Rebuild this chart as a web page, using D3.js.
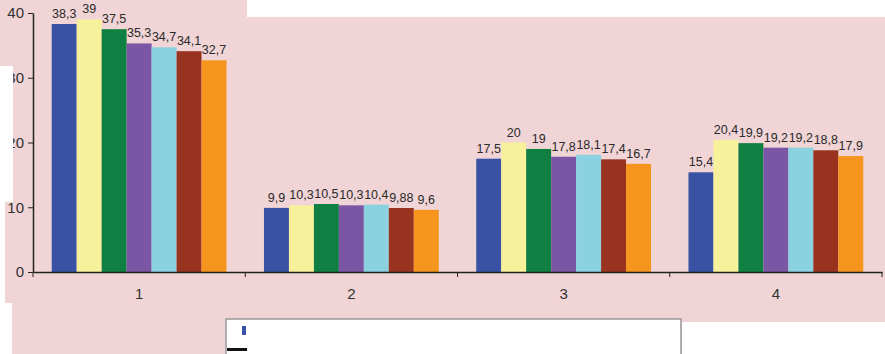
<!DOCTYPE html>
<html>
<head>
<meta charset="utf-8">
<script src="https://cdn.jsdelivr.net/npm/d3@7"></script>
<style>
	body { margin: 0; background: #fff; }
	svg { display: block; }
	text { font-family: 'Liberation Sans', Arial, sans-serif; }
</style>
</head>
<body>
<div id="app"></div>
<script>
'use strict'

// categories on the x axis
const categories = ['1', '2', '3', '4']

// seven series, one value per category
const series1 = [38.3, 9.9, 17.5, 15.4]
const series2 = [39, 10.3, 20, 20.4]
const series3 = [37.5, 10.5, 19, 19.9]
const series4 = [35.3, 10.3, 17.8, 19.2]
const series5 = [34.7, 10.4, 18.1, 19.2]
const series6 = [34.1, 9.88, 17.4, 18.8]
const series7 = [32.7, 9.6, 16.7, 17.9]

const yTicks = [0, 10, 20, 30, 40]

const seriesList = [series1, series2, series3, series4, series5, series6, series7]
const colors = ['#3a52a4', '#f8f19b', '#0f8041', '#7b56a4', '#8ad2df', '#97331f', '#f5951d']

const width = 885
const height = 354
const margin = { top: 13, right: 3, bottom: 82, left: 33 }
const innerW = width - margin.left - margin.right
const innerH = height - margin.top - margin.bottom

const fmt = v => String(v).replace('.', ',')

const svg = d3.select('#app').append('svg')
	.attr('width', width)
	.attr('height', height)

// pink plot background
svg.append('rect')
	.attr('width', width).attr('height', height)
	.attr('fill', '#f0d4d6')

const g = svg.append('g')
	.attr('transform', `translate(${margin.left}, ${margin.top})`)

const x0 = d3.scaleBand()
	.domain(categories)
	.range([0, innerW])
	.padding(0)

const x1 = d3.scaleBand()
	.domain(d3.range(seriesList.length))
	.range([0, x0.bandwidth()])
	.paddingInner(0)
	.paddingOuter(0.75)

const y = d3.scaleLinear()
	.domain([0, 40])
	.range([innerH, 0])

/*
 * Bars and value labels
 */
const groups = g.selectAll('.group')
	.data(categories)
	.enter().append('g')
	.attr('class', 'group')
	.attr('transform', d => `translate(${x0(d)}, 0)`)

groups.selectAll('rect')
	.data((c, ci) => seriesList.map((s, si) => ({ si, v: s[ci] })))
	.enter().append('rect')
	.attr('x', d => x1(d.si))
	.attr('y', d => y(d.v))
	.attr('width', x1.bandwidth())
	.attr('height', d => innerH - y(d.v))
	.attr('fill', d => colors[d.si])

groups.selectAll('.label')
	.data((c, ci) => seriesList.map((s, si) => ({ si, v: s[ci] })))
	.enter().append('text')
	.attr('class', 'label')
	.attr('x', d => x1(d.si) + x1.bandwidth() / 2)
	.attr('y', d => y(d.v) - 6)
	.attr('text-anchor', 'middle')
	.attr('font-size', 12.5)
	.attr('fill', '#2a2a2a')
	.text(d => fmt(d.v))

/*
 * Axes
 */
const yAxis = g.append('g')
	.call(d3.axisLeft(y).tickValues(yTicks).tickSize(5).tickSizeOuter(0))
yAxis.select('.domain').attr('stroke', '#222').attr('stroke-width', 1.5)
yAxis.selectAll('.tick line').attr('stroke', '#222')
yAxis.selectAll('.tick text')
	.attr('font-size', 15)
	.attr('fill', '#333')
	.attr('x', -9)

const xAxis = g.append('g')
	.attr('transform', `translate(0, ${innerH})`)
	.call(d3.axisBottom(x0).tickSize(0).tickSizeOuter(0))
xAxis.select('.domain').attr('stroke', '#222').attr('stroke-width', 1.5)
xAxis.selectAll('.tick text')
	.attr('font-size', 15)
	.attr('fill', '#333')
	.attr('dy', '1.6em')

// category boundary ticks
xAxis.selectAll('.sep')
	.data(d3.range(categories.length + 1))
	.enter().append('line')
	.attr('class', 'sep')
	.attr('x1', i => i * x0.step())
	.attr('x2', i => i * x0.step())
	.attr('y1', 0)
	.attr('y2', 5)
	.attr('stroke', '#222')

// white patches of the scan, lying over parts of the chart
svg.append('rect')
	.attr('x', 247).attr('y', 0).attr('width', width - 247).attr('height', 17)
	.attr('fill', '#fff')
svg.append('rect')
	.attr('x', 0).attr('y', 66).attr('width', 13).attr('height', 136)
	.attr('fill', '#fff')
svg.append('rect')
	.attr('x', 0).attr('y', 202).attr('width', 5).attr('height', 101)
	.attr('fill', '#fff')
svg.append('rect')
	.attr('x', 0).attr('y', 303).attr('width', 12).attr('height', 51)
	.attr('fill', '#fff')
svg.append('rect')
	.attr('x', 682).attr('y', 322).attr('width', width - 682).attr('height', 32)
	.attr('fill', '#fff')

/*
 * Legend box (mostly cut off in the picture)
 */
svg.append('rect')
	.attr('x', 226).attr('y', 319).attr('width', 455).attr('height', 40)
	.attr('fill', '#fff')
	.attr('stroke', '#999')
	.attr('stroke-width', 1.5)
svg.append('rect')
	.attr('x', 242).attr('y', 326).attr('width', 4).attr('height', 9)
	.attr('fill', colors[0])
svg.append('rect')
	.attr('x', 227).attr('y', 348).attr('width', 20).attr('height', 3)
	.attr('fill', '#111')
</script>
</body>
</html>
